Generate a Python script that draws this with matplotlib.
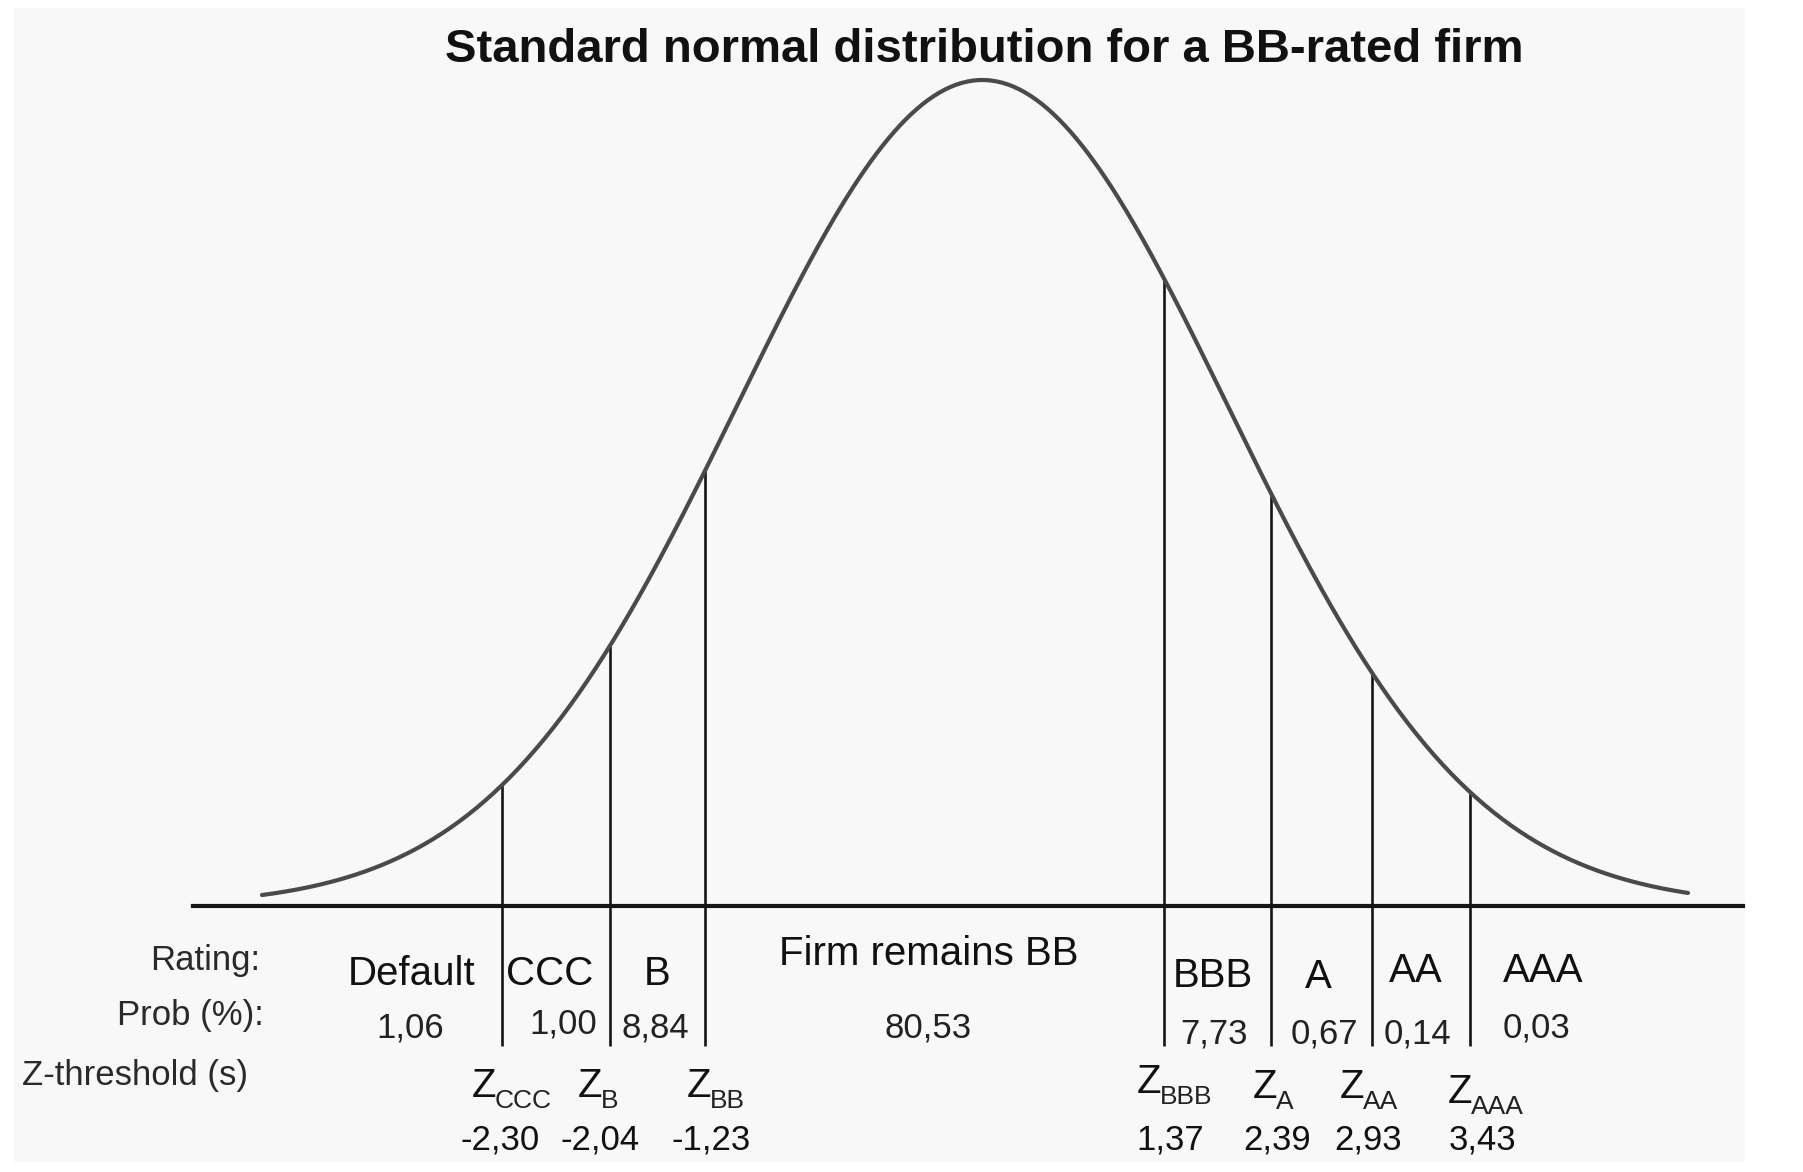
import numpy as np
import matplotlib
matplotlib.use("Agg")
import matplotlib.pyplot as plt
from matplotlib.patches import Rectangle

# --- data ---
ratings = ["Default", "CCC", "B", "Firm remains BB", "BBB", "A", "AA", "AAA"]
probs = ["1,06", "1,00", "8,84", "80,53", "7,73", "0,67", "0,14", "0,03"]
z_names = ["CCC", "B", "BB", "BBB", "A", "AA", "AAA"]
z_values = ["-2,30", "-2,04", "-1,23", "1,37", "2,39", "2,93", "3,43"]
# where the thresholds are drawn on the (schematic, not to scale) curve, in sigma units
z_drawn = [-1.96, -1.52, -1.13, 0.74, 1.18, 1.59, 1.99]

# --- layout (pixels, from top-left) ---
W, H = 1803, 1172
rating_x = [412, 550, 657, 929, 1213, 1318, 1416, 1543]
rating_base = [985, 985, 985, 965, 987, 988, 982, 982]
prob_x = [410, 563, 655, 928, 1214, 1324, 1417, 1536]
prob_base = [1038, 1033, 1038, 1038, 1043, 1043, 1043, 1037]
zlab_left = [472, 578, 687, 1137, 1253, 1340, 1448]
zlab_base = [1097, 1097, 1097, 1093, 1098, 1098, 1103]
zval_x = [500, 600, 711, 1170, 1277, 1368, 1482]

plt.rcParams['font.family'] = ['Liberation Sans', 'DejaVu Sans']

fig = plt.figure(figsize=(W / 100, H / 100), dpi=100, facecolor='white')
bg = Rectangle((14 / W, 1 - 1162 / H), (1745 - 14) / W, (1162 - 8) / H,
               transform=fig.transFigure, facecolor='#f8f8f8',
               edgecolor='none', zorder=-10)
fig.add_artist(bg)


def put(xp, yp, s, **kw):
    fig.text(xp / W, 1 - yp / H, s, va='baseline', **kw)


# curve axes: tails at 262..1688 px, baseline at 906 px, peak at 80 px
ax = fig.add_axes([262 / W, (H - 906) / H, 1426 / W, 826 / H])
ax.set_facecolor('none')
ax.set_zorder(5)
z_lo, z_hi = -2.94, 2.88
z = np.linspace(z_lo, z_hi, 500)
pdf = np.exp(-z ** 2 / 2) / np.sqrt(2 * np.pi)
peak = 1 / np.sqrt(2 * np.pi)
ax.set_xlim(z_lo, z_hi)
ax.set_ylim(0, peak)
ax.axis('off')

ax.plot(z, pdf, color='#4a4a4a', lw=3.0, solid_capstyle='round', clip_on=False, zorder=3)
ax.axhline(0, xmin=(193 - 262) / 1426, xmax=(1743 - 262) / 1426, color='#151515',
           lw=3.0, clip_on=False, zorder=4)

zd = np.array(z_drawn)
tops = np.exp(-zd ** 2 / 2) / np.sqrt(2 * np.pi)
line_bottom = -(1046 - 906) / 826 * peak
ax.vlines(zd, line_bottom, tops, color='#151515', lw=1.9, clip_on=False, zorder=2)

# title
put(984, 62, "Standard normal distribution for a BB-rated firm",
    ha='center', fontsize=34, fontweight='bold', color='#111111')

# row headers
put(260, 970, "Rating:", ha='right', fontsize=25, color='#2a2a2a')
put(264, 1025, "Prob (%):", ha='right', fontsize=25, color='#2a2a2a')
put(22, 1085, "Z-threshold (s)", ha='left', fontsize=25, color='#2a2a2a')

for x, yb, s in zip(rating_x, rating_base, ratings):
    put(x, yb, s, ha='center', fontsize=29, color='#111111')

for x, yb, s in zip(prob_x, prob_base, probs):
    put(x, yb, s, ha='center', fontsize=25, color='#222222')

for xl, yb, name in zip(zlab_left, zlab_base, z_names):
    put(xl, yb, "Z", ha='left', fontsize=29, color='#111111')
    put(xl + 23, yb + 11, name, ha='left', fontsize=19, color='#222222')

for x, s in zip(zval_x, z_values):
    put(x, 1150, s, ha='center', fontsize=25, color='#111111')

fig.savefig("out.png", dpi=100, facecolor='white')
